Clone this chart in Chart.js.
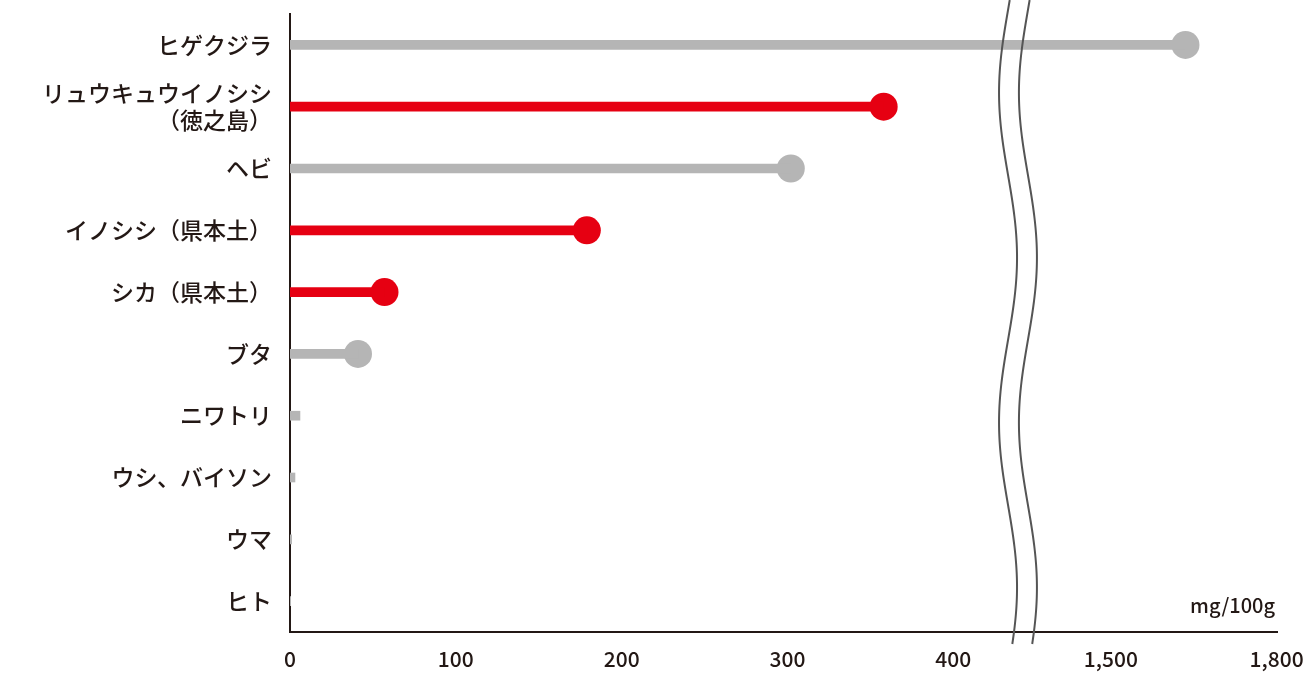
<!DOCTYPE html>
<html><head><meta charset="utf-8">
<script src="https://cdn.jsdelivr.net/npm/chart.js@4"></script>
<style>html,body{margin:0;background:#fff}#w{width:1305px;height:680px}</style>
</head><body><div id="w"><canvas id="c"></canvas></div>
<script>
const categories=["ヒゲクジラ",["リュウキュウイノシシ","（徳之島）"],"ヘビ","イノシシ（県本土）","シカ（県本土）","ブタ","ニワトリ","ウシ、バイソン","ウマ","ヒト"];
const values=[1635,358,302,179,57,41,6,3,1,0.4];
const highlight=[false,true,false,true,true,false,false,false,false,false];
const tickValues=[0,100,200,300,400,1500,1800];
const unit="mg/100g";
const GRAY="#b5b5b5",RED="#e60012",TXT="#231815";
function tx(v){return v>=1500?495+(v-1500)/3:v;}
const tickPos=tickValues.map(tx);
const cols=highlight.map(h=>h?RED:GRAY);
const dots=values.map((v,i)=>i<6?14:0);
const breakPlugin={id:'brk',afterDraw(ch){
 const c=ch.ctx,a=ch.chartArea,x=ch.scales.x;
 const y0=0,y1=a.bottom+12;
 [433,445].forEach(v=>{
  const bx=x.getPixelForValue(v);
  c.save();c.beginPath();
  for(let y=y0;y<=y1;y+=2){const xx=bx-9*Math.sin((y-10)/330*2*Math.PI);
   y===y0?c.moveTo(xx,y):c.lineTo(xx,y);}
  c.strokeStyle="#555";c.lineWidth=2;c.stroke();c.restore();
 });
 c.save();c.font="500 20px 'Noto Sans CJK JP'";c.fillStyle=TXT;c.textAlign="right";c.textBaseline="middle";
 c.fillText(unit,a.right-2,605);c.restore();
}};
new Chart(document.getElementById('c'),{
 data:{labels:categories,datasets:[
  {type:'bar',data:values.map(v=>[0,tx(v)]),backgroundColor:cols,barThickness:9,borderSkipped:false},
  {type:'line',data:values.map(tx),showLine:false,pointRadius:dots,pointHoverRadius:dots,pointBackgroundColor:cols,pointBorderWidth:0,indexAxis:'y'}
 ]},
 plugins:[breakPlugin],
 options:{indexAxis:'y',responsive:true,maintainAspectRatio:false,animation:false,
  layout:{padding:{top:0,right:28}},
  plugins:{legend:{display:false},tooltip:{enabled:false}},
  scales:{
   x:{type:'linear',min:0,max:595.2,grid:{display:false,drawTicks:false},border:{color:TXT,width:2},
    afterBuildTicks(s){s.ticks=tickPos.map(v=>({value:v}));},
    afterFit(s){s.height=48;s.paddingLeft=0;s.paddingRight=0;},
    ticks:{autoSkip:false,maxRotation:0,padding:14,color:TXT,font:{size:21,weight:'500',family:"'Noto Sans CJK JP'"},
     callback:(v,i)=>tickValues[i].toLocaleString('en-US')}},
   y:{grid:{display:false,drawTicks:false},border:{color:TXT,width:2},
    afterFit(s){s.width=290;s.paddingTop=13;s.paddingBottom=0;},
    ticks:{padding:18,color:TXT,font:{size:23,weight:'500',family:"'Noto Sans CJK JP'"}}}
  }}
});
</script></body></html>
